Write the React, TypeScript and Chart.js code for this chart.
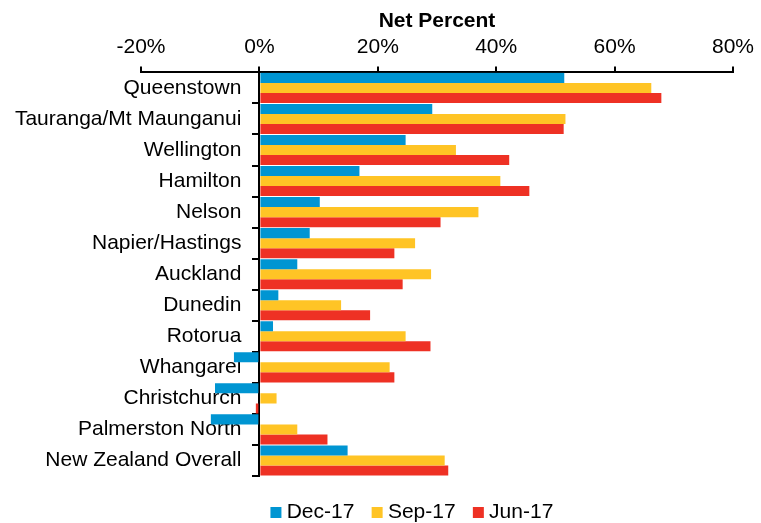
import React, { useEffect, useRef } from "react";
import { Chart, registerables } from "chart.js";

Chart.register(...registerables);

const categories = [
  "Queenstown",
  "Tauranga/Mt Maunganui",
  "Wellington",
  "Hamilton",
  "Nelson",
  "Napier/Hastings",
  "Auckland",
  "Dunedin",
  "Rotorua",
  "Whangarei",
  "Christchurch",
  "Palmerston North",
  "New Zealand Overall",
];

const dec17 = [51.5, 29.2, 24.7, 16.9, 10.2, 8.5, 6.4, 3.2, 2.3, -4.3, -7.5, -8.2, 14.9];
const sep17 = [66.2, 51.7, 33.2, 40.7, 37.0, 26.3, 29.0, 13.8, 24.7, 22.0, 2.9, 6.4, 31.3];
const jun17 = [67.9, 51.4, 42.2, 45.6, 30.6, 22.8, 24.2, 18.7, 28.9, 22.8, -0.6, 11.5, 31.9];

const seriesNames = ["Dec-17", "Sep-17", "Jun-17"];
const xTickValues = [-20, 0, 20, 40, 60, 80];
const xTitle = "Net Percent";

const FONT = "'Liberation Sans', Arial, sans-serif";
const LABEL_SHIFT = 18;

export default function App() {
  const ref = useRef<HTMLCanvasElement | null>(null);

  useEffect(() => {
    if (!ref.current) return;
    const colors = ["#0095D2", "#FFC425", "#EE3124"];
    const chart = new Chart(ref.current, {
      type: "bar",
      data: {
        labels: categories,
        datasets: [dec17, sep17, jun17].map((d, i) => ({
          label: seriesNames[i],
          data: d,
          backgroundColor: colors[i],
          borderWidth: 0,
          pointStyle: "rect",
          xAxisID: "x",
          yAxisID: "y",
          categoryPercentage: 0.97,
          barPercentage: 1,
        })),
      },
      options: {
        indexAxis: "y",
        animation: false,
        responsive: false,
        layout: { padding: { left: 91, right: 23, top: 0, bottom: -10 } },
        font: { family: FONT, size: 21 },
        color: "#000",
        scales: {
          x: {
            type: "linear",
            position: "top",
            min: xTickValues[0],
            max: xTickValues[xTickValues.length - 1],
            afterBuildTicks: (s: any) => {
              s.ticks = xTickValues.map((v) => ({ value: v }));
            },
            ticks: {
              callback: (v: any) => v + "%",
              color: "#000",
              font: { family: FONT, size: 21 },
              padding: 7,
              maxRotation: 0,
            },
            grid: {
              drawOnChartArea: false,
              drawTicks: true,
              tickLength: 6,
              color: "#000",
              lineWidth: 2,
            },
            border: { display: true, color: "#000", width: 2 },
            title: {
              display: true,
              text: xTitle,
              color: "#000",
              font: { family: FONT, size: 21, weight: "bold" },
              padding: { top: 8.5, bottom: -6.5 },
            },
          },
          y: {
            type: "category",
            position: { x: 0 } as any,
            ticks: {
              color: "#000",
              font: { family: FONT, size: 21 },
              padding: 14,
              autoSkip: false,
            },
            grid: {
              offset: true,
              drawOnChartArea: false,
              drawTicks: true,
              tickLength: 6,
              color: "#000",
              lineWidth: 2,
            },
            border: { display: true, color: "#000", width: 2 },
            afterUpdate: (s: any) => {
              if (s.__shifted) return;
              s.__shifted = true;
              const orig = s._computeLabelItems;
              s._computeLabelItems = function (ca: any) {
                const items = orig.call(this, ca);
                items.forEach((it: any) => {
                  if (it.options && Array.isArray(it.options.translation)) {
                    it.options.translation[0] -= LABEL_SHIFT;
                  } else if (typeof it.x === "number") {
                    it.x -= LABEL_SHIFT;
                  }
                });
                return items;
              };
            },
          },
          yPad: {
            type: "linear",
            position: "left",
            display: true,
            ticks: { display: false },
            grid: { display: false, drawTicks: false },
            border: { display: false },
            afterFit: (s: any) => {
              s.width = 50;
            },
          },
        },
        plugins: {
          legend: {
            position: "bottom",
            labels: {
              color: "#000",
              font: { family: FONT, size: 21 },
              usePointStyle: true,
              pointStyle: "rect",
              boxWidth: 0.5,
              boxHeight: 11,
              padding: 22.5,
            },
            title: {
              display: true,
              text: "",
              padding: 0,
              font: { size: 3.5, lineHeight: 1 },
            },
          },
          tooltip: { enabled: false },
        },
      } as any,
    });
    return () => chart.destroy();
  }, []);

  return (
    <div style={{ position: "fixed", left: 0, top: 0, width: 761, height: 523, background: "#fff" }}>
      <canvas ref={ref} width={761} height={523} style={{ display: "block" }} />
    </div>
  );
}
